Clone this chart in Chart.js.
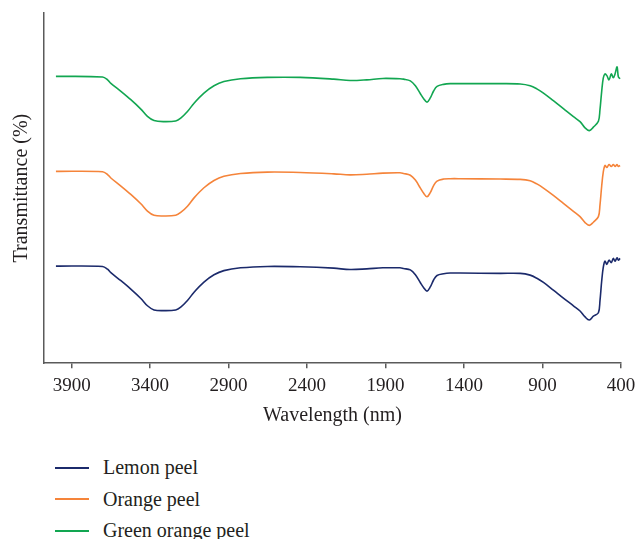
<!DOCTYPE html>
<html>
<head>
<meta charset="utf-8">
<script src="https://cdn.jsdelivr.net/npm/chart.js@4.4.1/dist/chart.umd.min.js"></script>
<style>
  body { margin: 0; background: #fff; }
  #wrap { position: relative; width: 636px; height: 539px; }
  #box { position: absolute; left: 0; top: 0; width: 636px; height: 435px; }
  #legend { position: absolute; left: 55px; top: 452px; font-family: "Liberation Serif", serif; font-size: 20px; color: #231f20; }
  .item { display: flex; align-items: center; height: 31.5px; }
  .swatch { width: 34px; height: 2px; margin-right: 14px; }
</style>
</head>
<body>
<div id="wrap">
  <div id="box"><canvas id="ftirChart"></canvas></div>
  <div id="legend"></div>
</div>
<script>
const wavelengths = [4000, 3703, 3671, 3650, 3586, 3523, 3459, 3417, 3375, 3311,
  3237, 3205, 3162, 3120, 3057, 2993, 2930, 2824, 2653, 2444,
  2230, 2126, 2020, 1917, 1808, 1785, 1742, 1710, 1678, 1657,
  1636, 1615, 1594, 1572, 1530, 1488, 1424, 1170, 1042, 979,
  936, 894, 831, 767, 703, 661, 629, 602, 576, 544,
  534, 523, 513, 502, 490, 476, 462, 449, 438, 425, 417, 406];

const lemonPeel = [27.0, 26.9, 26.1, 25.1, 22.8, 20.4, 17.7, 15.6, 14.4, 14.2,
  14.4, 15.2, 17.1, 19.5, 22.4, 24.5, 25.7, 26.5, 26.9, 26.8,
  26.4, 26.0, 26.2, 26.5, 26.5, 26.3, 25.9, 24.5, 22.2, 20.8,
  19.8, 21.0, 23.0, 24.3, 24.8, 25.0, 25.0, 24.9, 24.9, 24.4,
  23.5, 22.3, 20.1, 17.8, 15.6, 14.1, 12.4, 11.5, 12.6, 13.6,
  17.0, 22.7, 26.6, 28.4, 27.5, 28.7, 28.0, 29.2, 28.4, 29.4, 28.7, 29.2];

const orangePeel = [54.2, 54.1, 53.3, 52.3, 50.0, 47.6, 44.9, 42.8, 41.6, 41.4,
  41.6, 42.4, 44.2, 46.6, 49.5, 51.6, 52.8, 53.6, 54.0, 53.9,
  53.5, 53.2, 53.4, 53.7, 53.8, 53.6, 53.1, 51.7, 49.4, 47.9,
  46.9, 48.1, 50.1, 51.4, 52.0, 52.1, 52.1, 52.0, 51.9, 51.5,
  50.6, 49.4, 47.3, 45.0, 42.7, 41.2, 39.5, 38.7, 39.6, 41.2,
  44.5, 50.0, 54.0, 55.9, 55.3, 56.2, 55.6, 56.2, 55.6, 56.2, 55.6, 55.9];

const greenOrangePeel = [81.5, 81.3, 80.5, 79.5, 77.2, 74.8, 72.1, 70.0, 68.8, 68.5,
  68.7, 69.5, 71.4, 73.8, 76.7, 78.8, 80.0, 80.8, 81.2, 81.2,
  80.7, 80.3, 80.5, 80.9, 80.8, 80.7, 80.2, 78.8, 76.5, 75.1,
  74.1, 75.3, 77.3, 78.6, 79.2, 79.4, 79.4, 79.4, 79.3, 78.8,
  77.9, 76.7, 74.5, 72.2, 69.9, 68.5, 66.7, 65.9, 66.9, 68.6,
  71.9, 77.2, 81.0, 82.2, 81.7, 80.5, 82.2, 81.1, 82.2, 84.2, 81.4, 80.8];

const xTicks = [3900, 3400, 2900, 2400, 1900, 1400, 900, 400];

const seriesNames = ['Lemon peel', 'Orange peel', 'Green orange peel'];
const seriesColors = ['#1b2a6b', '#f5843a', '#12a651'];

const textColor = '#231f20';
const axisColor = '#5a5a5a';
const serif = "'Liberation Serif', 'Times New Roman', serif";

const toPoints = values => wavelengths.map((w, i) => ({ x: w, y: values[i] }));

const datasets = [lemonPeel, orangePeel, greenOrangePeel].map((values, i) => ({
  label: seriesNames[i],
  data: toPoints(values),
  borderColor: seriesColors[i],
  backgroundColor: seriesColors[i],
  borderWidth: 1.6,
  pointRadius: 0,
  tension: 0.35,
  fill: false
}));

const ctx = document.getElementById('ftirChart').getContext('2d');

const chart = new Chart(ctx, {
  type: 'line',
  data: { datasets: datasets },
  options: {
    responsive: true,
    maintainAspectRatio: false,
    animation: false,
    layout: { padding: { left: 6, right: 0, top: 13, bottom: 3 } },
    scales: {
      x: {
        type: 'linear',
        reverse: true,
        min: 400,
        max: 4076,
        afterBuildTicks: scale => { scale.ticks = xTicks.map(v => ({ value: v })); },
        // keep the right edge of the axis where the last label half-width needs it
        afterFit: scale => { scale.paddingRight = 15; },
        ticks: {
          color: textColor,
          font: { family: serif, size: 19 },
          padding: 6,
          maxRotation: 0,
          autoSkip: false,
          callback: v => String(v)
        },
        grid: { display: true, drawOnChartArea: false, drawTicks: true, tickLength: 5, color: axisColor, lineWidth: 1.5 },
        border: { display: true, color: axisColor, width: 1.5 },
        title: { display: true, text: 'Wavelength (nm)', color: textColor, font: { family: serif, size: 20 }, padding: { top: 1, bottom: 4 } }
      },
      y: {
        min: -0.9,
        max: 99.7,
        ticks: { display: false },
        grid: { display: false },
        border: { display: true, color: axisColor, width: 1.5 },
        title: { display: true, text: 'Transmittance (%)', color: textColor, font: { family: serif, size: 20 }, padding: { top: 4, bottom: 2 } }
      }
    },
    plugins: {
      legend: { display: false },
      tooltip: { enabled: false }
    }
  }
});

// legend below the chart, built from the datasets
const legendEl = document.getElementById('legend');
chart.data.datasets.forEach(ds => {
  const row = document.createElement('div');
  row.className = 'item';
  const sw = document.createElement('span');
  sw.className = 'swatch';
  sw.style.background = ds.borderColor;
  const label = document.createElement('span');
  label.textContent = ds.label;
  row.appendChild(sw);
  row.appendChild(label);
  legendEl.appendChild(row);
});
</script>
</body>
</html>
